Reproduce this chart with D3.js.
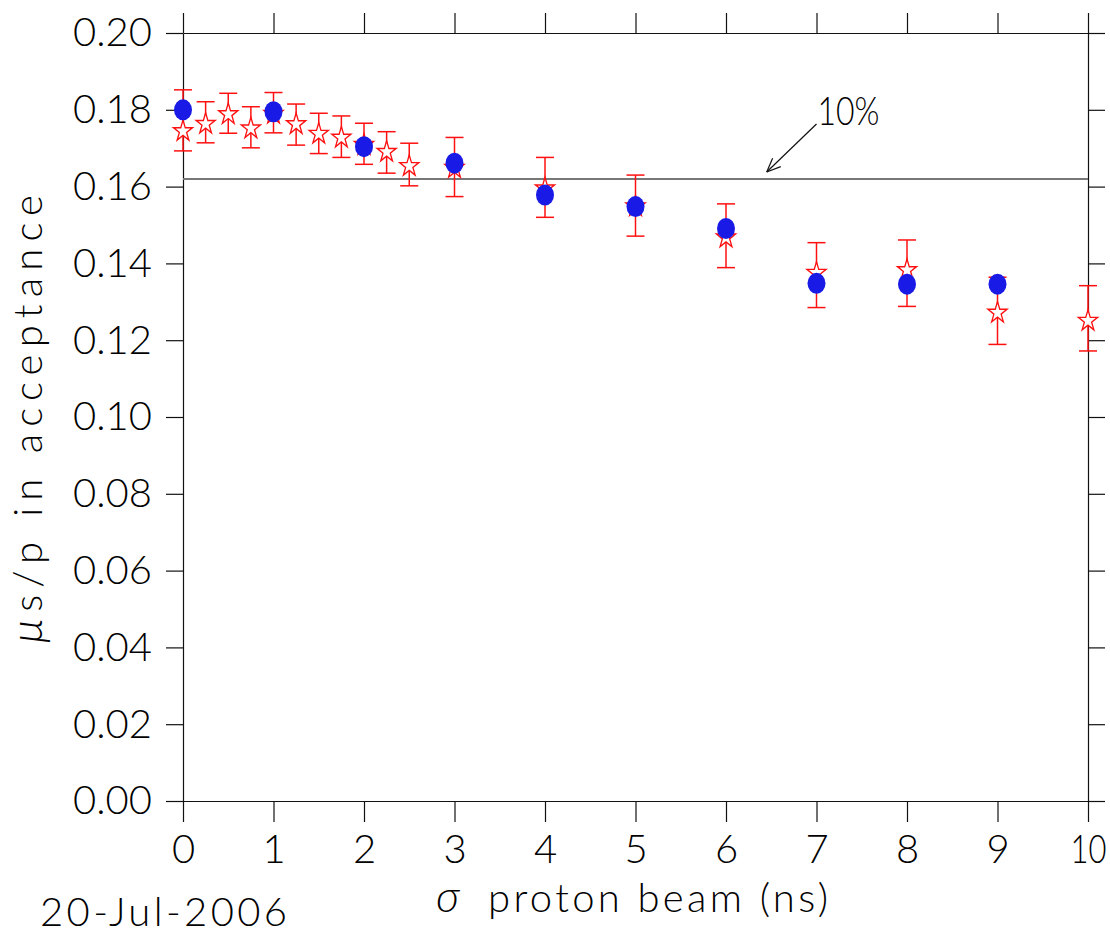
<!DOCTYPE html>
<html>
<head>
<meta charset="utf-8">
<script src="https://cdn.jsdelivr.net/npm/d3@7"></script>
<style>
  body { margin: 0; background: #fff; }
  svg text { font-family: Lato, Roboto, "DejaVu Sans", sans-serif; font-weight: 300; fill: #000; }
</style>
</head>
<body>
<svg id="chart" width="1110" height="932"></svg>
<script>
'use strict';

// blue points (no error bars)
let blueX = [0, 1, 2, 3, 4, 5, 6, 7, 8, 9];
let blueY = [0.1800, 0.1795, 0.1704, 0.1661, 0.1578, 0.1548, 0.1491, 0.1348, 0.1346, 0.1346];

// red stars with error bars
let starX  = [0, 0.25, 0.5, 0.75, 1, 1.25, 1.5, 1.75, 2, 2.25, 2.5, 3, 4, 5, 6, 7, 8, 9, 10];
let starY  = [0.1747, 0.1766, 0.1791, 0.1754, 0.1792, 0.1765, 0.1740, 0.1730, 0.1711, 0.1693,
              0.1656, 0.1651, 0.1598, 0.1551, 0.1470, 0.1378, 0.1385, 0.1274, 0.1253];
let starHi = [0.1852, 0.1821, 0.1843, 0.1808, 0.1845, 0.1815, 0.1791, 0.1784, 0.1765, 0.1743,
              0.1713, 0.1728, 0.1676, 0.1630, 0.1555, 0.1454, 0.1461, 0.1364, 0.1342];
let starLo = [0.1693, 0.1714, 0.1739, 0.1701, 0.1740, 0.1708, 0.1686, 0.1676, 0.1658, 0.1635,
              0.1602, 0.1574, 0.1520, 0.1471, 0.1389, 0.1285, 0.1288, 0.1189, 0.1172];

let xTicks = [0, 1, 2, 3, 4, 5, 6, 7, 8, 9, 10];
let yTicks = [0, 0.02, 0.04, 0.06, 0.08, 0.10, 0.12, 0.14, 0.16, 0.18, 0.20];

// reference line and its label
let refLevel = 0.162;
let refLabel = "10%";
let arrowFrom = [7.0, 0.1763];
let arrowTo = [6.45, 0.1638];

let svg = d3.select("#chart");
let fontSize = 40;
let textFont = "Lato, Roboto, 'DejaVu Sans', sans-serif";

let x = d3.scaleLinear().domain([0, 10]).range([183, 1088]);
let y = d3.scaleLinear().domain([0, 0.20]).range([801, 33]);

// axes, with ticks on all four sides
function styleAxis(g) {
  g.selectAll("path, line").attr("stroke", "#111").attr("stroke-width", 1.2);
  g.selectAll("text").attr("font-size", fontSize + "px").attr("fill", "#000")
    .attr("font-family", textFont).attr("font-weight", 300);
}

svg.append("g")
  .attr("transform", `translate(0,${y(0)})`)
  .call(d3.axisBottom(x).tickValues(xTicks).tickFormat(d3.format("d")).tickSize(21).tickSizeOuter(0).tickPadding(13))
  .call(styleAxis)
  .selectAll(".tick text")
  .filter(d => d >= 10)
  .attr("textLength", 36).attr("lengthAdjust", "spacingAndGlyphs");

svg.append("g")
  .attr("transform", `translate(0,${y(0.20)})`)
  .call(d3.axisTop(x).tickValues(xTicks).tickFormat("").tickSize(20).tickSizeOuter(0))
  .call(styleAxis);

svg.append("g")
  .attr("transform", `translate(${x(0)},0)`)
  .call(d3.axisLeft(y).tickValues(yTicks).tickFormat(d3.format(".2f")).tickSize(17).tickSizeOuter(0).tickPadding(14))
  .call(styleAxis);

svg.append("g")
  .attr("transform", `translate(${x(10)},0)`)
  .call(d3.axisRight(y).tickValues(yTicks).tickFormat("").tickSize(17).tickSizeOuter(0))
  .call(styleAxis);

// horizontal reference line
svg.append("line")
  .attr("x1", x(0)).attr("x2", x(10))
  .attr("y1", y(refLevel)).attr("y2", y(refLevel))
  .attr("stroke", "#777").attr("stroke-width", 2);

// arrow pointing at the line
let ax1 = x(arrowFrom[0]), ay1 = y(arrowFrom[1]);
let ax2 = x(arrowTo[0]), ay2 = y(arrowTo[1]);
let ang = Math.atan2(ay2 - ay1, ax2 - ax1);
svg.append("line")
  .attr("x1", ax1).attr("y1", ay1).attr("x2", ax2).attr("y2", ay2)
  .attr("stroke", "#111").attr("stroke-width", 1.2);
[-0.4, 0.4].forEach(da => {
  svg.append("line")
    .attr("x1", ax2).attr("y1", ay2)
    .attr("x2", ax2 - 15 * Math.cos(ang + da)).attr("y2", ay2 - 15 * Math.sin(ang + da))
    .attr("stroke", "#111").attr("stroke-width", 1.2);
});
svg.append("text")
  .attr("x", x(arrowFrom[0]) + 1).attr("y", ay1 + 1)
  .attr("font-size", fontSize + "px")
  .attr("textLength", 62).attr("lengthAdjust", "spacingAndGlyphs")
  .text(refLabel);

// error bars of the stars
let starData = starX.map((d, i) => ({x: d, y: starY[i], hi: starHi[i], lo: starLo[i]}));
let err = svg.append("g").attr("stroke", "#ff1010").attr("stroke-width", 1.5);
err.selectAll(".ebar").data(starData).enter().append("line")
  .attr("x1", d => x(d.x)).attr("x2", d => x(d.x))
  .attr("y1", d => y(d.hi)).attr("y2", d => y(d.lo));
err.selectAll(".capHi").data(starData).enter().append("line")
  .attr("x1", d => x(d.x) - 9).attr("x2", d => x(d.x) + 9)
  .attr("y1", d => y(d.hi)).attr("y2", d => y(d.hi));
err.selectAll(".capLo").data(starData).enter().append("line")
  .attr("x1", d => x(d.x) - 9).attr("x2", d => x(d.x) + 9)
  .attr("y1", d => y(d.lo)).attr("y2", d => y(d.lo));

// open stars
let star = d3.symbol().type(d3.symbolStar).size(112);
svg.append("g").selectAll("path").data(starData).enter().append("path")
  .attr("d", star)
  .attr("transform", d => `translate(${x(d.x)},${y(d.y) + 1}) scale(1,1.12)`)
  .attr("fill", "#fff").attr("stroke", "#ff1010").attr("stroke-width", 1.3);

// blue filled circles
svg.append("g").selectAll("ellipse").data(blueX).enter().append("ellipse")
  .attr("cx", d => x(d))
  .attr("cy", (d, i) => y(blueY[i]))
  .attr("rx", 9).attr("ry", 10.5)
  .attr("fill", "#1a1ae6");

// axis titles
svg.append("text")
  .attr("x", 436).attr("y", 912)
  .attr("font-size", "44px")
  .style("font-style", "italic")
  .text("σ");
svg.append("text")
  .attr("x", 488).attr("y", 912)
  .attr("font-size", fontSize + "px")
  .attr("textLength", 340).attr("lengthAdjust", "spacing")
  .text("proton beam (ns)");

let yTitle = svg.append("text")
  .attr("transform", `translate(42,${(y(0) + y(0.20)) / 2 + 2}) rotate(-90)`)
  .attr("text-anchor", "middle")
  .attr("font-size", fontSize + "px")
  .attr("textLength", 448).attr("lengthAdjust", "spacing");
yTitle.append("tspan")
  .style("font-style", "italic")
  .attr("font-size", "44px")
  .text("μ");
yTitle.append("tspan").text("s/p in acceptance");

// date stamp
svg.append("text")
  .attr("x", 40).attr("y", 926)
  .attr("font-size", fontSize + "px")
  .attr("textLength", 247).attr("lengthAdjust", "spacing")
  .text("20-Jul-2006");
</script>
</body>
</html>
